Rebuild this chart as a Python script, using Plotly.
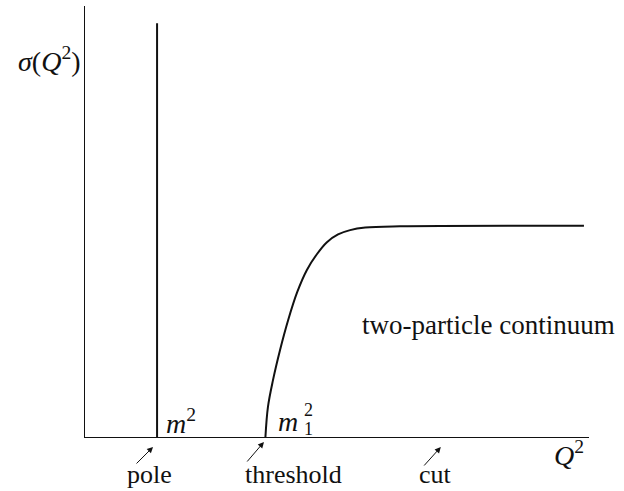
import plotly.graph_objects as go

# Schematic spectral function: a pole plus a two-particle continuum
pole_x = 1.43
pole_height = 9.6

cont_x = [3.58, 3.63, 3.73, 3.87, 4.03, 4.21, 4.40, 4.60, 4.80, 5.02, 5.26, 5.56, 6.25, 9.90]
cont_y = [0.00, 0.70, 1.32, 2.02, 2.71, 3.36, 3.87, 4.24, 4.52, 4.70, 4.80, 4.86, 4.89, 4.90]

FONT = "Liberation Serif"
INK = "#111111"

fig = go.Figure()

fig.add_trace(go.Scatter(x=[pole_x, pole_x], y=[0, pole_height], mode="lines",
                         line=dict(color=INK, width=2), hoverinfo="skip"))
fig.add_trace(go.Scatter(x=cont_x, y=cont_y, mode="lines",
                         line=dict(color=INK, width=2, shape="spline", smoothing=1.0),
                         hoverinfo="skip"))

ann = []

def text(x, y, s, size=26, xanchor="center", yanchor="middle"):
    ann.append(dict(x=x, y=y, xref="paper", yref="paper", text=s, showarrow=False,
                    xanchor=xanchor, yanchor=yanchor,
                    font=dict(family=FONT, size=size, color=INK)))

def arrow(x, y, ax, ay):
    ann.append(dict(x=x, y=y, xref="paper", yref="paper", text="", showarrow=True,
                    ax=ax, ay=ay, arrowhead=2, arrowsize=1.2, arrowwidth=1,
                    arrowcolor=INK, standoff=0))

# axis titles
text(-0.004, 0.875, "<i>σ</i>(<i>Q</i><sup>2</sup>)", size=28, xanchor="right")
text(0.960, -0.039, "<i>Q</i><sup>2</sup>", size=28)

# mass labels
text(0.157, 0.037, "<i>m</i><sup>2</sup>", size=28, xanchor="left")
text(0.379, 0.037, "<i>m</i>", size=28, xanchor="left")
text(0.431, 0.062, "2", size=18, xanchor="left")
text(0.431, 0.019, "1", size=18, xanchor="left")

# labelled arrows below the axis
arrow(0.135, -0.0232, -18, 18)
text(0.127, -0.088, "pole")
arrow(0.355, -0.0116, -18, 21)
text(0.413, -0.088, "threshold")
arrow(0.706, -0.0232, -18, 20)
text(0.696, -0.088, "cut")

text(0.800, 0.260, "two-particle continuum", size=27)

fig.update_layout(
    width=624, height=491,
    margin=dict(l=85, r=35, t=6, b=54),
    paper_bgcolor="white", plot_bgcolor="white",
    font=dict(family=FONT, color=INK),
    showlegend=False,
    annotations=ann,
    xaxis=dict(range=[0, 10], showgrid=False, zeroline=False, showticklabels=False,
               ticks="", showline=True, linecolor=INK, linewidth=1, fixedrange=True),
    yaxis=dict(range=[0, 10], showgrid=False, zeroline=False, showticklabels=False,
               ticks="", showline=True, linecolor=INK, linewidth=1, fixedrange=True),
)

fig.write_html("out.html")
